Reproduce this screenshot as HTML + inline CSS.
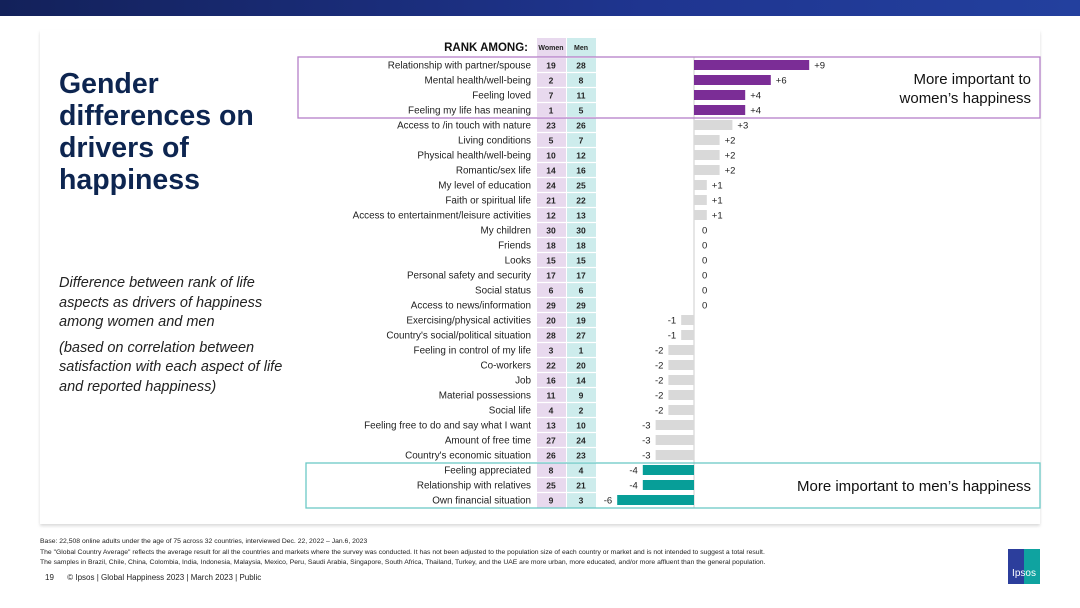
<!DOCTYPE html>
<html><head><meta charset="utf-8"><style>
body{margin:0;width:1080px;height:608px;overflow:hidden;background:#fff;font-family:"Liberation Sans",sans-serif;position:relative}
.banner{position:absolute;left:0;top:0;width:1080px;height:16px;background:linear-gradient(90deg,#13215a,#1f3590 60%,#23409e)}
.card{position:absolute;left:40px;top:30px;width:1000px;height:494px;background:#fff;box-shadow:0 2px 3px rgba(0,0,0,0.15)}
.title{position:absolute;left:59px;top:68px;font-size:28.5px;font-weight:bold;line-height:32px;color:#0d2550}
.sub{position:absolute;left:59px;top:274px;width:232px;font-size:14.5px;font-style:italic;line-height:19.5px;color:#222}
.foot{position:absolute;left:40px;font-size:6.8px;color:#222}
</style></head><body>
<div class="banner"></div>
<div class="card"></div>
<div class="title">Gender<br>differences on<br>drivers of<br>happiness</div>
<div class="sub">Difference between rank of life aspects as drivers of happiness among women and men<div style="margin-top:6px">(based on correlation between satisfaction with each aspect of life and reported happiness)</div></div>
<svg id="chart" width="1080" height="608" style="position:absolute;left:0;top:0"></svg>
<div class="foot" style="top:538px">Base: 22,508 online adults under the age of 75 across 32 countries, interviewed Dec. 22, 2022 – Jan.6, 2023</div>
<div class="foot" style="top:549px">The "Global Country Average" reflects the average result for all the countries and markets where the survey was conducted. It has not been adjusted to the population size of each country or market and is not intended to suggest a total result.</div>
<div class="foot" style="top:559px">The samples in Brazil, Chile, China, Colombia, India, Indonesia, Malaysia, Mexico, Peru, Saudi Arabia, Singapore, South Africa, Thailand, Turkey, and the UAE are more urban, more educated, and/or more affluent than the general population.</div>
<div style="position:absolute;left:45px;top:573px;font-size:8px;color:#222">19&nbsp;&nbsp;&nbsp;&nbsp;&nbsp;&nbsp;© Ipsos | Global Happiness 2023 | March 2023 | Public</div>
<div style="position:absolute;left:1008px;top:549px;width:32px;height:35px;background:linear-gradient(90deg,#2c3e9c 50%,#0fa3a0 50%);color:#fff;font-size:10px;text-align:center;line-height:50px">Ipsos</div>
<script>
const labels=["Relationship with partner/spouse","Mental health/well-being","Feeling loved","Feeling my life has meaning","Access to /in touch with nature","Living conditions","Physical health/well-being","Romantic/sex life","My level of education","Faith or spiritual life","Access to entertainment/leisure activities","My children","Friends","Looks","Personal safety and security","Social status","Access to news/information","Exercising/physical activities","Country's social/political situation","Feeling in control of my life","Co-workers","Job","Material possessions","Social life","Feeling free to do and say what I want","Amount of free time","Country's economic situation","Feeling appreciated","Relationship with relatives","Own financial situation"];
const women=[19,2,7,1,23,5,10,14,24,21,12,30,18,15,17,6,29,20,28,3,22,16,11,4,13,27,26,8,25,9];
const men=[28,8,11,5,26,7,12,16,25,22,13,30,18,15,17,6,29,19,27,1,20,14,9,2,10,24,23,4,21,3];
const diffs=[9,6,4,4,3,2,2,2,1,1,1,0,0,0,0,0,0,-1,-1,-2,-2,-2,-2,-2,-3,-3,-3,-4,-4,-6];
const svg=document.getElementById('chart');const NS='http://www.w3.org/2000/svg';
function mk(t,a,txt){const e=document.createElementNS(NS,t);for(const k in a)e.setAttribute(k,a[k]);if(txt!==undefined)e.textContent=txt;svg.appendChild(e);return e;}
const x0=694,unit=12.8,rowY=i=>65+i*15;const xs=v=>x0+v*unit;
let e;
e=mk('rect',{x:537,y:38,width:29,height:470,fill:'#e8d9ee'});
e=mk('rect',{x:567,y:38,width:29,height:470,fill:'#cdecec'});
e=mk('text',{x:528,y:51,'text-anchor':'end','font-size':11.5,'font-weight':'bold',fill:'#111'},'RANK AMONG:');
e=mk('text',{x:551,y:50,'text-anchor':'middle','font-size':7,'font-weight':'bold',fill:'#222'},'Women');
e=mk('text',{x:581,y:50,'text-anchor':'middle','font-size':7,'font-weight':'bold',fill:'#222'},'Men');
e=mk('line',{x1:x0,y1:57,x2:x0,y2:508,stroke:'#ccc','stroke-width':1});
labels.forEach((l,i)=>{const y=rowY(i);
 mk('line',{x1:537,y1:y-7.5,x2:596,y2:y-7.5,stroke:'#fff','stroke-width':1.2});
 e=mk('text',{x:531,y:y+3.5,'text-anchor':'end','font-size':9.9,fill:'#222'},l);
 e=mk('text',{x:551,y:y+3.5,'text-anchor':'middle','font-size':8.5,'font-weight':'bold',fill:'#222'},women[i]);
 e=mk('text',{x:581,y:y+3.5,'text-anchor':'middle','font-size':8.5,'font-weight':'bold',fill:'#222'},men[i]);
 const v=diffs[i];const col=i<4?'#7b2d96':(i>=27?'#079e98':'#d9d9d9');
 if(v!==0){e=mk('rect',{x:Math.min(xs(v),x0),y:y-5,width:Math.abs(xs(v)-x0),height:10,fill:col});}
 const t=v>0?'+'+v:String(v);
 e=mk('text',{x:v>=0?xs(v)+5+(v===0?3:0):xs(v)-5,y:y+3.5,'text-anchor':v>=0?'start':'end','font-size':9.5,fill:'#222'},t);
});
e=mk('rect',{x:298,y:57,width:742,height:61,fill:'none',stroke:'#b57fc8','stroke-width':1.3});
e=mk('rect',{x:306,y:463,width:734,height:45,fill:'none',stroke:'#6cc9c6','stroke-width':1.3});
e=mk('text',{x:1031,y:84,'text-anchor':'end','font-size':15,fill:'#111'},'More important to');
e=mk('text',{x:1031,y:103,'text-anchor':'end','font-size':15,fill:'#111'},'women\u2019s happiness');
e=mk('text',{x:1031,y:491,'text-anchor':'end','font-size':15,fill:'#111'},'More important to men\u2019s happiness');
</script>
</body></html>
